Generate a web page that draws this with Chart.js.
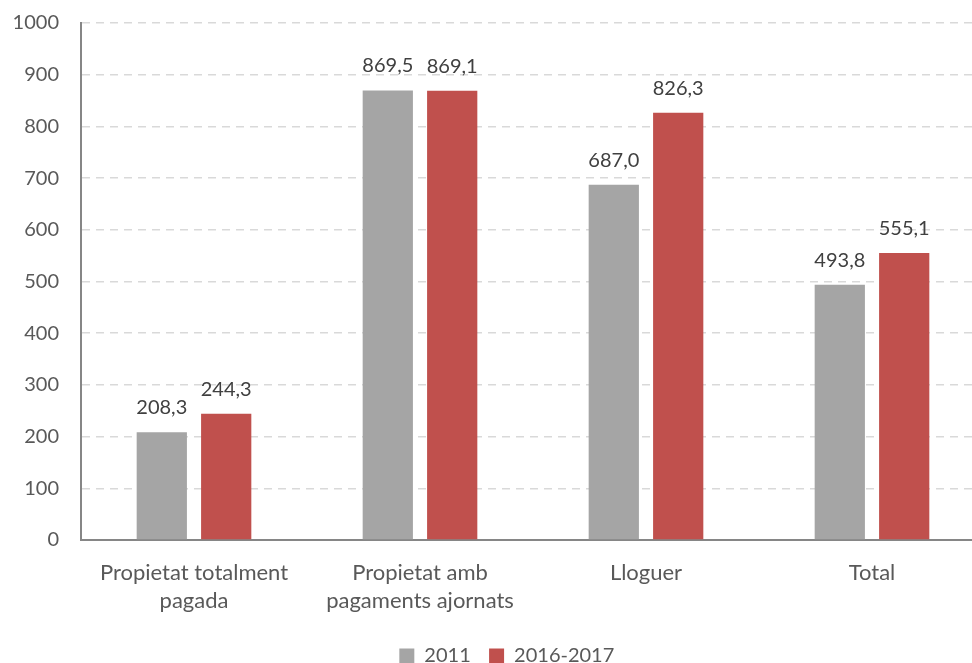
<!DOCTYPE html>
<html>
<head>
<meta charset="utf-8">
<script src="https://cdn.jsdelivr.net/npm/chart.js@4"></script>
<style>
    html, body { margin: 0; padding: 0; background: #fff; overflow: hidden; }
    #wrap { width: 985px; height: 687px; margin-top: -11px; }
</style>
</head>
<body>
<div id="wrap"><canvas id="chart"></canvas></div>
<script>
// Data
const categories = [["Propietat totalment", "pagada"], ["Propietat amb", "pagaments ajornats"], "Lloguer", "Total"];
const values2011 = [208.3, 869.5, 687.0, 493.8];
const values2016 = [244.3, 869.1, 826.3, 555.1];
const seriesNames = ["2011", "2016-2017"];

const FONT = "Lato, 'Open Sans', sans-serif";
const TEXT = "#595959";

// draws the value above each bar, with a decimal comma
const valueLabels = {
    id: "valueLabels",
    afterLayout(chart) {
        // legend sits a bit right of the canvas centre
        chart.legend.left += 22;
        chart.legend.right += 22;
    },
    afterDatasetsDraw(chart) {
        const ctx = chart.ctx;
        ctx.save();
        ctx.font = "20px " + FONT;
        ctx.fillStyle = "#404040";
        ctx.textAlign = "center";
        ctx.textBaseline = "alphabetic";
        chart.data.datasets.forEach((ds, i) => {
            chart.getDatasetMeta(i).data.forEach((bar, j) => {
                const txt = ds.data[j].toFixed(1).replace(".", ",");
                ctx.fillText(txt, bar.x, bar.y - 18);
            });
        });
        ctx.restore();
    }
};

document.addEventListener("DOMContentLoaded", () => {
    const ctx = document.getElementById("chart").getContext("2d");
    new Chart(ctx, {
        type: "bar",
        data: {
            labels: categories,
            datasets: [
                {
                    label: seriesNames[0],
                    data: values2011,
                    backgroundColor: "#a5a5a5",
                    categoryPercentage: 0.57,
                    barPercentage: 0.78,
                },
                {
                    label: seriesNames[1],
                    data: values2016,
                    backgroundColor: "#c0504d",
                    categoryPercentage: 0.57,
                    barPercentage: 0.78,
                },
            ],
        },
        options: {
            responsive: true,
            maintainAspectRatio: false,
            animation: false,
            layout: { padding: 0 },
            scales: {
                y: {
                    min: 0,
                    max: 1000,
                    ticks: {
                        stepSize: 100,
                        color: TEXT,
                        font: { family: FONT, size: 20 },
                        padding: 22,
                        callback: (v) => String(v),
                    },
                    grid: { color: "#d9d9d9", lineWidth: 1.5, drawTicks: false },
                    border: { display: true, color: "#868686", width: 2, dash: [8, 6] },
                    afterFit(scale) { scale.width = 81; },
                },
                x: {
                    ticks: {
                        color: TEXT,
                        font: { family: FONT, size: 22, lineHeight: 1.27 },
                        padding: 19,
                        maxRotation: 0,
                    },
                    grid: { display: false, drawTicks: false },
                    border: { display: true, color: "#868686", width: 2 },
                    afterFit(scale) { scale.height = 103; },
                },
            },
            plugins: {
                legend: {
                    display: true,
                    position: "bottom",
                    labels: {
                        boxWidth: 15,
                        boxHeight: 15,
                        padding: 3,
                        color: TEXT,
                        font: { family: FONT, size: 20 },
                        generateLabels(chart) {
                            // extra spaces between the two entries
                            return Chart.defaults.plugins.legend.labels.generateLabels(chart).map((l) => {
                                l.text = l.text + "   ";
                                return l;
                            });
                        },
                    },
                },
                tooltip: { enabled: false },
            },
        },
        plugins: [valueLabels],
    });
});
</script>
</body>
</html>
